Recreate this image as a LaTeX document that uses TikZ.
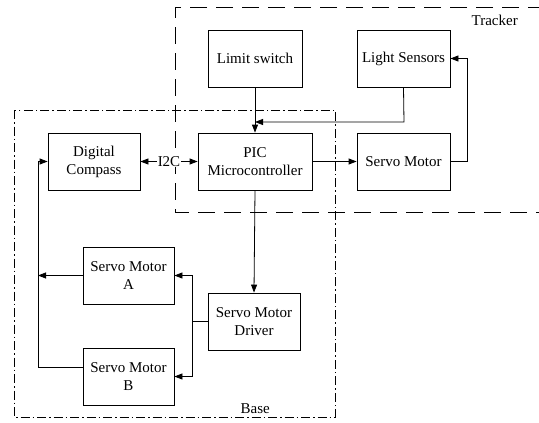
\documentclass[tikz,border=0pt]{standalone}
\usepackage{fontspec}
\setmainfont{Liberation Serif}
\usetikzlibrary{arrows.meta}
\begin{document}
\begin{tikzpicture}[x=1pt,y=-1pt,
  blk/.style={draw,line width=0.8pt,rectangle,inner sep=0pt,minimum height=57pt,align=center,font=\fontsize{15}{18}\selectfont},
  conn/.style={line width=0.8pt},
  arr/.style={line width=0.8pt,-{Triangle[length=8pt,width=6pt]}},
  lbl/.style={font=\fontsize{15}{18}\selectfont,inner sep=1pt}]
\useasboundingbox (0,0) rectangle (539,423);
% group frames
\draw[line width=0.8pt,dash pattern=on 17pt off 9pt] (545,7) -- (175,7) -- (175,212) -- (545,212);
\draw[line width=0.8pt,dash pattern=on 9pt off 3pt on 1.5pt off 3pt] (14,110) rectangle (335,417);
\node[lbl,anchor=east] (trk) at (519,20) {Tracker};
\node[lbl,anchor=east] (bas) at (271,409) {Base};
% blocks
\node[blk,minimum width=94pt] (lim) at (255,58.5) {Limit switch};
\node[blk,minimum width=93pt] (lig) at (403.5,58.5) {Light Sensors};
\node[blk,minimum width=114pt] (pic) at (255,161.5) {PIC\\Microcontroller};
\node[blk,minimum width=93pt] (stm) at (403.5,161.5) {Servo Motor};
\node[blk,minimum width=92pt] (cmp) at (94,161.5) {Digital\\Compass};
\node[blk,minimum width=91pt] (sma) at (128.5,275.5) {Servo Motor\\A};
\node[blk,minimum width=91pt] (smb) at (128.5,376.5) {Servo Motor\\B};
\node[blk,minimum width=92pt] (drv) at (254,321.5) {Servo Motor\\Driver};
% helper coordinates
\coordinate (lsj) at (404,122);
\coordinate (lsk) at (255,122);
\coordinate (smr) at (467,161.5);
\coordinate (smu) at (467,58.5);
\coordinate (dj) at (192,321.5);
\coordinate (leftx) at (38,0);
\coordinate (bl) at (83,367);
% connectors
\draw[arr] (lim.south) -- (pic.north);
\draw[arr] (lig.south) -- (lsj) -- (lsk);
\draw[arr] (pic.east) -- (stm.west);
\draw[arr] (stm.east) -- (smr) -- (smu) -- (lig.east);
\draw[line width=0.8pt,{Triangle[length=8pt,width=6pt]}-{Triangle[length=8pt,width=6pt]}] (cmp.east) -- node[lbl,fill=white,inner sep=0.5pt] (i2c) {I2C} (pic.west);
\draw[arr] (pic.south) -- (drv.north);
\draw[conn] (drv.west) -- (dj);
\draw[arr] (dj) |- (sma.east);
\draw[arr] (dj) |- (smb.east);
\draw[arr] (sma.west) -- (sma.west -| leftx);
\draw[arr] (bl) -- (bl -| leftx) -- (cmp.west -| leftx) -- (cmp.west);
\end{tikzpicture}
\end{document}
